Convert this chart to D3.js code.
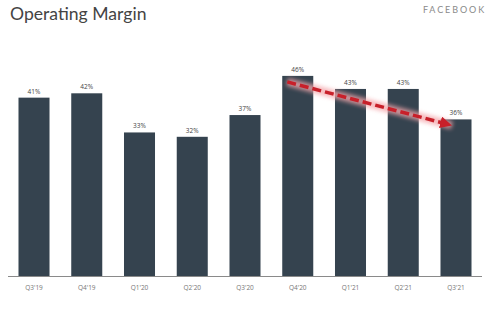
<!DOCTYPE html>
<html>
<head>
<meta charset="utf-8">
<script src="https://cdn.jsdelivr.net/npm/d3@7"></script>
<style>
  html, body { margin: 0; padding: 0; background: #fff; }
  svg { display: block; }
</style>
</head>
<body>
<svg id="chart" width="500" height="329"></svg>
<script>
// Quarterly operating margin, in percent
const quarters = ["Q3'19", "Q4'19", "Q1'20", "Q2'20", "Q3'20", "Q4'20", "Q1'21", "Q2'21", "Q3'21"];
const margins = [41, 42, 33, 32, 37, 46, 43, 43, 36];
const valueLabels = ["41%", "42%", "33%", "32%", "37%", "46%", "43%", "43%", "36%"];
// Trend arrow runs from the peak quarter to the latest one
const trendFrom = "Q4'20";
const trendTo = "Q3'21";

const svg = d3.select("#chart");
const baseline = 276;

const x = d3.scaleBand()
  .domain(quarters)
  .range([8, 482])
  .paddingInner(0.412)
  .paddingOuter(0.199);

const y = d3.scaleLinear()
  .domain([0, 50])
  .range([baseline, baseline - 217.5]);

// Title and brand
svg.append("text")
  .attr("x", 10).attr("y", 20)
  .attr("font-family", "Lato, 'Open Sans', sans-serif")
  .attr("font-size", 17.6)
  .attr("fill", "#444")
  .text("Operating Margin");

svg.append("text")
  .attr("x", 486).attr("y", 13)
  .attr("text-anchor", "end")
  .attr("font-family", "Lato, 'Open Sans', sans-serif")
  .attr("font-size", 9)
  .attr("letter-spacing", 1.9)
  .attr("fill", "#8a8a8a")
  .text("FACEBOOK");

// Bars
svg.append("g").selectAll("rect")
  .data(quarters)
  .join("rect")
  .attr("x", d => x(d))
  .attr("y", (d, i) => y(margins[i]))
  .attr("width", x.bandwidth())
  .attr("height", (d, i) => baseline - y(margins[i]))
  .attr("fill", "#35434f");

// Value labels
svg.append("g").selectAll("text")
  .data(quarters)
  .join("text")
  .attr("x", d => x(d) + x.bandwidth() / 2)
  .attr("y", (d, i) => y(margins[i]) - 4)
  .attr("text-anchor", "middle")
  .attr("font-family", "'Open Sans', sans-serif")
  .attr("font-size", 6.5)
  .attr("fill", "#444")
  .text((d, i) => valueLabels[i]);

// Category axis
const axis = svg.append("g")
  .attr("transform", `translate(0,${baseline})`)
  .call(d3.axisBottom(x).tickSize(0).tickPadding(9));
axis.select(".domain").attr("stroke", "#8a8a8a").attr("stroke-width", 1)
  .attr("d", "M8,0.5H482");
axis.selectAll("text")
  .attr("font-family", "'Open Sans', sans-serif")
  .attr("font-size", 6.5)
  .attr("fill", "#777");

// Dashed trend arrow with a soft glow
const defs = svg.append("defs");
const glow = defs.append("filter").attr("id", "glow")
  .attr("x", "-20%").attr("y", "-50%").attr("width", "140%").attr("height", "200%");
glow.append("feGaussianBlur").attr("stdDeviation", 2.2);

const strokeW = 3.5, headScale = 3.4, refX = 4;
defs.append("marker")
  .attr("id", "head")
  .attr("viewBox", "0 0 10 10")
  .attr("refX", refX).attr("refY", 5)
  .attr("markerWidth", headScale).attr("markerHeight", headScale)
  .attr("orient", "auto")
  .append("path")
  .attr("d", "M0,0L10,5L0,10Z")
  .attr("fill", "#c8202a");

const i0 = quarters.indexOf(trendFrom), i1 = quarters.indexOf(trendTo);
const x0 = x(trendFrom) + 5, y0 = y(margins[i0]) + 6;
const tipX = x(trendTo) + x.bandwidth() / 2 - 4, tipY = y(margins[i1]) + 6;
// pull the line end back so the marker tip lands on the target point
const len = Math.hypot(tipX - x0, tipY - y0);
const back = (10 - refX) * headScale * strokeW / 10;
const x1 = tipX - (tipX - x0) / len * back, y1 = tipY - (tipY - y0) / len * back;

svg.append("line")
  .attr("x1", x0).attr("y1", y0).attr("x2", tipX).attr("y2", tipY)
  .attr("stroke", "#f4a7ac")
  .attr("stroke-width", 8)
  .attr("opacity", 0.8)
  .attr("filter", "url(#glow)");

svg.append("line")
  .attr("x1", x0).attr("y1", y0).attr("x2", x1).attr("y2", y1)
  .attr("stroke", "#c8202a")
  .attr("stroke-width", strokeW)
  .attr("stroke-dasharray", "9,4")
  .attr("marker-end", "url(#head)");
</script>
</body>
</html>
